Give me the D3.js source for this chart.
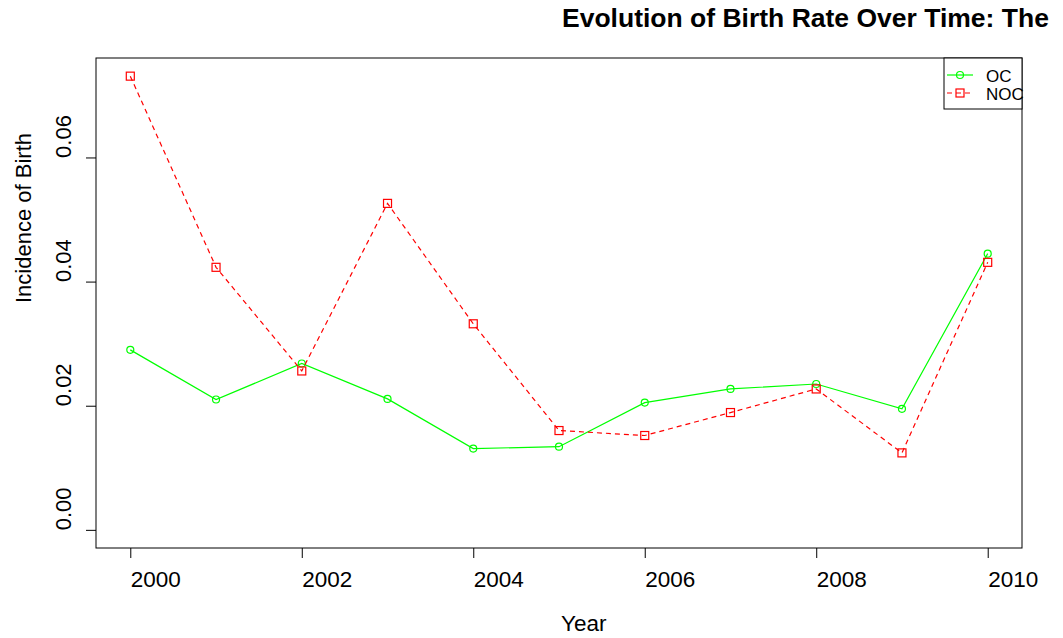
<!DOCTYPE html>
<html>
<head>
<meta charset="utf-8">
<script src="https://cdn.jsdelivr.net/npm/d3@7"></script>
<style>
  body { margin: 0; background: #fff; }
  svg { display: block; font-family: "Liberation Sans", Arial, sans-serif; }
</style>
</head>
<body>
<div id="chart"></div>
<script>
// data
const years = [2000, 2001, 2002, 2003, 2004, 2005, 2006, 2007, 2008, 2009, 2010];
const ocValues = [0.0290, 0.0210, 0.0268, 0.0211, 0.0131, 0.0134, 0.0205, 0.0227, 0.0235, 0.0195, 0.0445];
const nocValues = [0.0731, 0.0423, 0.0256, 0.0526, 0.0332, 0.0160, 0.0152, 0.0189, 0.0227, 0.0124, 0.0431];
const xTicks = [2000, 2002, 2004, 2006, 2008, 2010];
const yTicks = [0, 0.02, 0.04, 0.06];
const seriesNames = ["OC", "NOC"];

const W = 1063, H = 638;
// plot box, R style
const box = { left: 96, right: 1022, top: 58, bottom: 548 };

const svg = d3.select("#chart").append("svg")
  .attr("width", W)
  .attr("height", H);

// R pads the range by 4% each side
const yMax = d3.max(nocValues.concat(ocValues));
const xScale = d3.scaleLinear()
  .domain([2000 - 0.4, 2010 + 0.4])
  .range([box.left, box.right]);
const yScale = d3.scaleLinear()
  .domain([0 - yMax * 0.04, yMax * 1.04])
  .range([box.bottom, box.top]);

// x axis
const xAxis = svg.append("g")
  .attr("transform", `translate(0, ${box.bottom})`)
  .call(d3.axisBottom(xScale).tickValues(xTicks).tickSize(10).tickSizeOuter(0).tickFormat(d3.format("d")));
xAxis.select(".domain").remove();
xAxis.selectAll("text")
  .attr("y", 39)
  .attr("dy", null)
  .attr("text-anchor", "start")
  .style("font-size", "22.5px")
  .style("font-family", "Liberation Sans, Arial, sans-serif");

// y axis
const yAxis = svg.append("g")
  .attr("transform", `translate(${box.left}, 0)`)
  .call(d3.axisLeft(yScale).tickValues(yTicks).tickSize(10).tickSizeOuter(0).tickFormat(d3.format(".2f")));
yAxis.select(".domain").remove();
yAxis.selectAll("text")
  .attr("x", null)
  .attr("dy", null)
  .attr("transform", "translate(-25, 0) rotate(-90)")
  .attr("text-anchor", "start")
  .style("font-size", "22px")
  .style("font-family", "Liberation Sans, Arial, sans-serif");

svg.selectAll(".tick line").attr("stroke", "#000");

// plot frame
svg.append("rect")
  .attr("x", box.left)
  .attr("y", box.top)
  .attr("width", box.right - box.left)
  .attr("height", box.bottom - box.top)
  .attr("fill", "none")
  .attr("stroke", "#000")
  .attr("stroke-width", 1);

const line = d3.line()
  .x((d, i) => xScale(years[i]))
  .y((d) => yScale(d));

// OC series
svg.append("path")
  .datum(ocValues)
  .attr("fill", "none")
  .attr("stroke", "#00ff00")
  .attr("stroke-width", 1.2)
  .attr("d", line);

svg.selectAll(".oc-pt")
  .data(ocValues)
  .enter()
  .append("circle")
  .attr("class", "oc-pt")
  .attr("cx", (d, i) => xScale(years[i]))
  .attr("cy", (d) => yScale(d))
  .attr("r", 3.5)
  .attr("fill", "none")
  .attr("stroke", "#00ff00")
  .attr("stroke-width", 1.2);

// NOC series
svg.append("path")
  .datum(nocValues)
  .attr("fill", "none")
  .attr("stroke", "#ff0000")
  .attr("stroke-width", 1.2)
  .attr("stroke-dasharray", "5,4")
  .attr("d", line);

svg.selectAll(".noc-pt")
  .data(nocValues)
  .enter()
  .append("rect")
  .attr("class", "noc-pt")
  .attr("x", (d, i) => xScale(years[i]) - 4)
  .attr("y", (d) => yScale(d) - 4)
  .attr("width", 8)
  .attr("height", 8)
  .attr("fill", "none")
  .attr("stroke", "#ff0000")
  .attr("stroke-width", 1.2);

// title (starts at plot centre, runs off the window)
svg.append("text")
  .attr("x", (box.left + box.right) / 2 + 3)
  .attr("y", 27)
  .attr("text-anchor", "start")
  .style("font-size", "26.5px")
  .style("font-weight", "bold")
  .text("Evolution of Birth Rate Over Time: The");

// axis titles
svg.append("text")
  .attr("x", (box.left + box.right) / 2 + 2)
  .attr("y", 631)
  .attr("text-anchor", "start")
  .style("font-size", "22.5px")
  .text("Year");

svg.append("text")
  .attr("transform", `translate(31, ${(box.top + box.bottom) / 2}) rotate(-90)`)
  .attr("text-anchor", "start")
  .style("font-size", "22px")
  .text("Incidence of Birth");

// legend
const legend = svg.append("g");
legend.append("rect")
  .attr("x", 944)
  .attr("y", box.top)
  .attr("width", box.right - 944)
  .attr("height", 51)
  .attr("fill", "#fff")
  .attr("stroke", "#000")
  .attr("stroke-width", 1);

const legendColors = ["#00ff00", "#ff0000"];
seriesNames.forEach((name, i) => {
  const ly = 75 + i * 18;
  legend.append("line")
    .attr("x1", 947).attr("x2", 973)
    .attr("y1", ly).attr("y2", ly)
    .attr("stroke", legendColors[i])
    .attr("stroke-width", 1.2)
    .attr("stroke-dasharray", i === 1 ? "5,4" : null);
  if (i === 0) {
    legend.append("circle")
      .attr("cx", 960).attr("cy", ly).attr("r", 3.5)
      .attr("fill", "none").attr("stroke", legendColors[i]).attr("stroke-width", 1.2);
  } else {
    legend.append("rect")
      .attr("x", 956).attr("y", ly - 4).attr("width", 8).attr("height", 8)
      .attr("fill", "none").attr("stroke", legendColors[i]).attr("stroke-width", 1.2);
  }
  legend.append("text")
    .attr("x", 986)
    .attr("y", ly + 7)
    .style("font-size", "17px")
    .text(name);
});
</script>
</body>
</html>
